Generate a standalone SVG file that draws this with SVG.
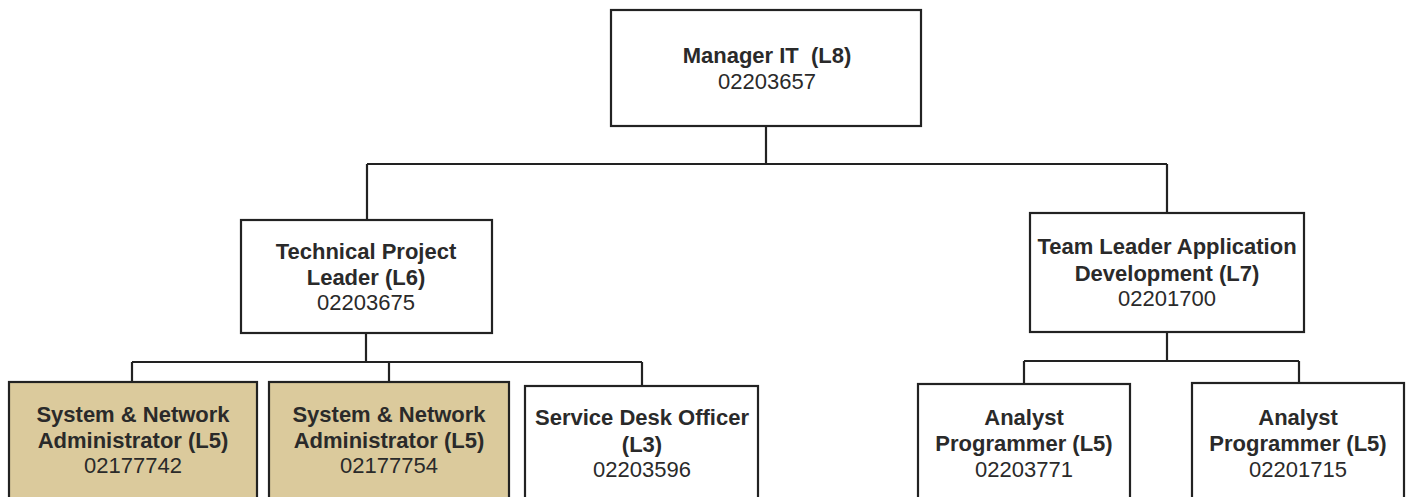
<svg xmlns="http://www.w3.org/2000/svg" width="1409" height="497" viewBox="0 0 1409 497">
  <style>
    .box { fill: #ffffff; stroke: #222222; stroke-width: 2.2; }
    .tan { fill: #dbca9c; }
    .conn { fill: none; stroke: #222222; stroke-width: 2.2; }
    text { font-family: "Liberation Sans", Arial, sans-serif; font-size: 22px; fill: #2a2a2a; text-anchor: middle; white-space: pre; }
    .b { font-weight: bold; }
  </style>
  <rect x="0" y="0" width="1409" height="497" fill="#ffffff"/>
  <g id="connectors">
    <path class="conn" d="M766,126 V164 M367,164 H1167 M367,164 V220 M1167,164 V213"/>
    <path class="conn" d="M366,333 V362 M132,362 H642 M132,362 V382 M389,362 V382 M642,362 V386"/>
    <path class="conn" d="M1167,332 V361 M1024,361 H1299 M1024,361 V384 M1299,361 V383"/>
  </g>
  <g id="manager">
    <rect class="box" x="611" y="10" width="310" height="116"/>
    <text x="767" y="63" class="b" xml:space="preserve">Manager IT  (L8)</text>
    <text x="767" y="89">02203657</text>
  </g>
  <g id="tech-lead">
    <rect class="box" x="241" y="220" width="251" height="113"/>
    <text x="366" y="259" class="b">Technical Project</text>
    <text x="366" y="285" class="b">Leader (L6)</text>
    <text x="366" y="310">02203675</text>
  </g>
  <g id="team-lead">
    <rect class="box" x="1030" y="213" width="274" height="119"/>
    <text x="1167" y="254" class="b">Team Leader Application</text>
    <text x="1167" y="281" class="b">Development (L7)</text>
    <text x="1167" y="306">02201700</text>
  </g>
  <g id="sna1">
    <rect class="box tan" x="9" y="382" width="248" height="130"/>
    <text x="133" y="422" class="b">System &amp; Network</text>
    <text x="133" y="448" class="b">Administrator (L5)</text>
    <text x="133" y="473">02177742</text>
  </g>
  <g id="sna2">
    <rect class="box tan" x="269" y="382" width="240" height="130"/>
    <text x="389" y="422" class="b">System &amp; Network</text>
    <text x="389" y="448" class="b">Administrator (L5)</text>
    <text x="389" y="473">02177754</text>
  </g>
  <g id="service-desk">
    <rect class="box" x="525" y="386" width="233" height="126"/>
    <text x="642" y="425" class="b">Service Desk Officer</text>
    <text x="642" y="452" class="b">(L3)</text>
    <text x="642" y="477">02203596</text>
  </g>
  <g id="analyst1">
    <rect class="box" x="918" y="384" width="212" height="128"/>
    <text x="1024" y="425" class="b">Analyst</text>
    <text x="1024" y="451" class="b">Programmer (L5)</text>
    <text x="1024" y="477">02203771</text>
  </g>
  <g id="analyst2">
    <rect class="box" x="1192" y="383" width="212" height="129"/>
    <text x="1298" y="425" class="b">Analyst</text>
    <text x="1298" y="451" class="b">Programmer (L5)</text>
    <text x="1298" y="477">02201715</text>
  </g>
</svg>
